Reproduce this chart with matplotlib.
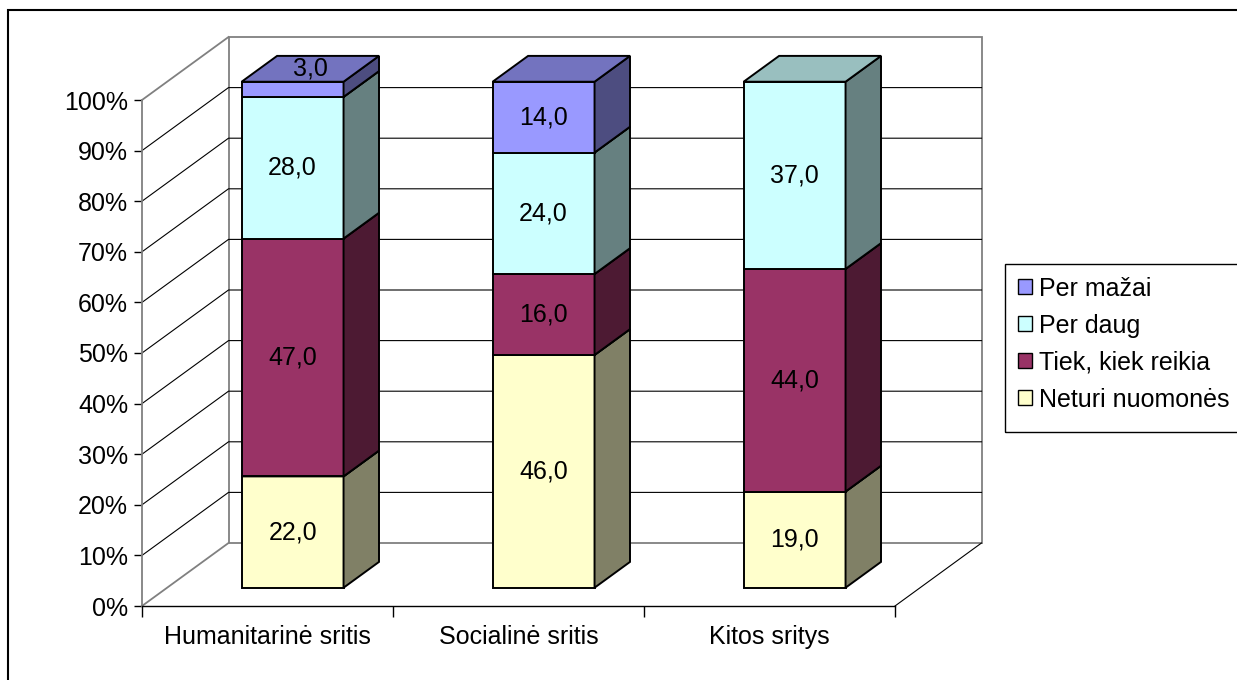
import matplotlib
matplotlib.use("Agg")
import matplotlib.pyplot as plt
from matplotlib.patches import Polygon, Rectangle, Patch
from matplotlib.ticker import FuncFormatter

plt.rcParams['font.family'] = ['Liberation Sans', 'DejaVu Sans']

categories = ['Humanitarinė sritis', 'Socialinė sritis', 'Kitos sritys']
series_names = ['Neturi nuomonės', 'Tiek, kiek reikia', 'Per daug', 'Per mažai']
neturi_nuomones = [22.0, 46.0, 19.0]
tiek_kiek_reikia = [47.0, 16.0, 44.0]
per_daug = [28.0, 24.0, 37.0]
per_mazai = [3.0, 14.0, 0.0]
series_values = [neturi_nuomones, tiek_kiek_reikia, per_daug, per_mazai]
front_colors = ['#FFFFCC', '#993366', '#CCFFFF', '#9999FF']

# oblique "3D" look: depth offset of the back wall in data units
DX = 86.5 / 753 * 3
DY = 63 / 506 * 100
D0, D1 = 0.29, 0.70      # bar depth span (fraction of wall depth)
BAR_W = 0.406


def shade(hex_color, k):
    c = matplotlib.colors.to_rgb(hex_color)
    return tuple(v * k for v in c)


def proj(x, y, d):
    return (x + d * DX, y + d * DY)


fig = plt.figure(figsize=(12.37, 6.8), dpi=100)
ax = fig.add_axes([142 / 1237, 74 / 680, 753 / 1237, 506 / 680])
ax.set_xlim(0, 3)
ax.set_ylim(0, 100)
ax.patch.set_visible(False)

n_cat = len(categories)
gray = '#808080'

# back wall
wall = Polygon([proj(0, 0, 1), proj(n_cat, 0, 1), proj(n_cat, 100, 1), proj(0, 100, 1)],
               closed=True, facecolor='white', edgecolor=gray, lw=1.3, clip_on=False, zorder=1)
ax.add_patch(wall)

# gridlines on back and side wall
for v in range(10, 100, 10):
    x0, y0 = proj(0, v, 0)
    x1, y1 = proj(0, v, 1)
    x2, y2 = proj(n_cat, v, 1)
    ax.plot([x0, x1, x2], [y0, y1, y2], color='black', lw=0.8, clip_on=False, zorder=2)

for v in (0, 100):
    x0, y0 = proj(0, v, 0)
    x1, y1 = proj(0, v, 1)
    ax.plot([x0, x1], [y0, y1], color=gray, lw=1.3, clip_on=False, zorder=2)

x0, y0 = proj(n_cat, 0, 0)
x1, y1 = proj(n_cat, 0, 1)
ax.plot([x0, x1], [y0, y1], color='black', lw=0.8, clip_on=False, zorder=2)

# stacked 3D bars
for i in range(n_cat):
    xl = i + 0.5 - BAR_W / 2
    xr = i + 0.5 + BAR_W / 2
    bottom = 0.0
    for s, vals in enumerate(series_values):
        v = vals[i]
        if v <= 0:
            continue
        top = bottom + v
        col = front_colors[s]
        front = [proj(xl, bottom, D0), proj(xr, bottom, D0), proj(xr, top, D0), proj(xl, top, D0)]
        side = [proj(xr, bottom, D0), proj(xr, bottom, D1), proj(xr, top, D1), proj(xr, top, D0)]
        topf = [proj(xl, top, D0), proj(xr, top, D0), proj(xr, top, D1), proj(xl, top, D1)]
        for pts, fc in ((front, col), (side, shade(col, 0.5)), (topf, shade(col, 0.75))):
            ax.add_patch(Polygon(pts, closed=True, facecolor=fc, edgecolor='black',
                                 lw=1.4, joinstyle='miter', clip_on=False, zorder=3 + s))
        if v < 5:
            tx, ty = proj(i + 0.5, top, (D0 + D1) / 2)
        else:
            tx, ty = proj(i + 0.5, bottom + v / 2, D0)
        ax.text(tx, ty, f'{v:.1f}'.replace('.', ','), ha='center', va='center',
                fontsize=18, zorder=10, clip_on=False)
        bottom = top

# axes styling
for side_name in ('top', 'right'):
    ax.spines[side_name].set_visible(False)
ax.spines['left'].set_color(gray)
ax.spines['left'].set_linewidth(1.3)
ax.spines['bottom'].set_color('black')
ax.spines['bottom'].set_linewidth(1.0)
ax.spines['left'].set_zorder(2)

ax.set_yticks(range(0, 101, 10))
ax.yaxis.set_major_formatter(FuncFormatter(lambda v, p: f'{int(v)}%'))
ax.tick_params(axis='y', direction='out', length=6, width=1, colors='black',
               labelsize=18, pad=4)

ax.set_xticks(range(n_cat + 1))
ax.set_xticklabels([])
ax.set_xticks([i + 0.5 for i in range(n_cat)], minor=True)
ax.set_xticklabels(categories, minor=True)
ax.tick_params(axis='x', which='major', direction='out', length=8, width=1)
ax.tick_params(axis='x', which='minor', length=0, labelsize=18, pad=14)

# legend (frame drawn separately, it runs past the right edge)
handles = [Patch(facecolor=front_colors[s], edgecolor='black', lw=1.0, label=series_names[s])
           for s in reversed(range(len(series_names)))]
leg = fig.legend(handles=handles, loc='upper left',
                 bbox_to_anchor=(1005 / 1237, 1 - 264 / 680), fontsize=18,
                 frameon=False, handlelength=0.55, handleheight=0.55, handletextpad=0.3,
                 labelspacing=0.52, borderpad=0.51, borderaxespad=0)
fig.add_artist(Rectangle((1005 / 1237, 1 - 432 / 680), 0.3, 168 / 680,
                         transform=fig.transFigure, fill=False, edgecolor='black', lw=1.0))

# chart area border
fig.add_artist(Rectangle((8 / 1237, -0.05), 1.1, 1.05 - 10 / 680, transform=fig.transFigure,
                         fill=False, edgecolor='black', lw=1.5))

fig.savefig('out.png', dpi=100)
